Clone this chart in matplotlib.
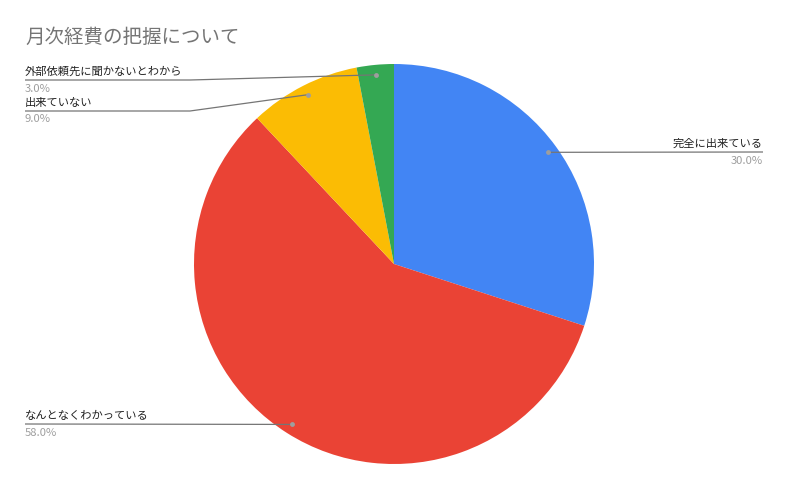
import numpy as np
import matplotlib
matplotlib.use("Agg")
import matplotlib.pyplot as plt

plt.rcParams['font.family'] = ['Noto Sans CJK JP', 'DejaVu Sans']

title = '月次経費の把握について'
labels = ['完全に出来ている', 'なんとなくわかっている', '出来ていない', '外部依頼先に聞かないとわから']
values = [30.0, 58.0, 9.0, 3.0]
colors = ['#4285F4', '#EA4335', '#FBBC04', '#34A853']

W, H = 788, 488
fig = plt.figure(figsize=(W / 100, H / 100), dpi=100)
ax = fig.add_axes([0, 0, 1, 1])

cx, cy, r = 394, H - 264, 200
wedges, _ = ax.pie(values, colors=colors, startangle=90, counterclock=False,
                   center=(cx, cy), radius=r, wedgeprops=dict(linewidth=0))
ax.set_xlim(0, W)
ax.set_ylim(0, H)
ax.set_aspect('equal')
ax.axis('off')

fig.text(25 / W, 1 - 37 / H, title, fontsize=14, color='#757575', va='center', ha='left')

# label layout: (side, line y, elbow x)
layout = [
    ('right', 152, None),
    ('left', 424, None),
    ('left', 111, 190),
    ('left', 80, 190),
]
line_c = '#757575'
for w, lab, val, (side, ly, ex) in zip(wedges, labels, values, layout):
    mid = np.deg2rad((w.theta1 + w.theta2) / 2)
    dx = cx + 0.95 * r * np.cos(mid)
    dy = cy + 0.95 * r * np.sin(mid)
    ly = H - ly
    if side == 'right':
        xs, ys = [dx, 763], [dy, ly]
        tx, ha = 763, 'right'
    else:
        if ex is None:
            xs, ys = [dx, 25], [dy, ly]
        else:
            xs, ys = [dx, ex, 25], [dy, ly, ly]
        tx, ha = 25, 'left'
    ax.plot(xs, ys, color=line_c, lw=0.9, solid_capstyle='butt')
    ax.plot([dx], [dy], 'o', color='#9e9e9e', ms=3.5, mec='none')
    ax.text(tx, ly + 8, lab, fontsize=8.1, color='#222222', ha=ha, va='center')
    ax.text(tx, ly - 8.5, f'{val:.1f}%', fontsize=8.1, color='#9e9e9e', ha=ha, va='center')

fig.savefig('out.png', dpi=100, facecolor='white')
